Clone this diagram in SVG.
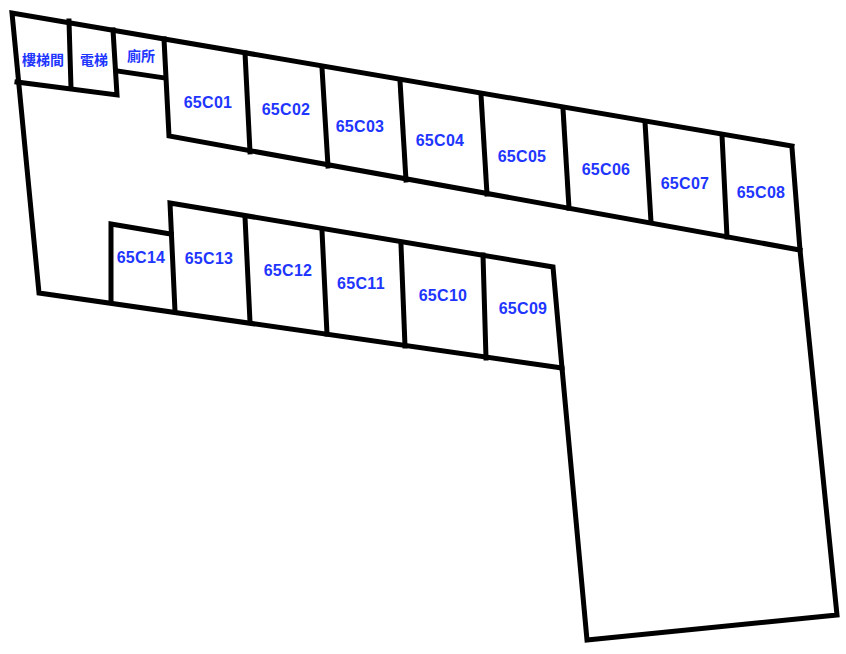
<svg xmlns="http://www.w3.org/2000/svg" width="846" height="654" viewBox="0 0 846 654">
<style>
.w{fill:none;stroke:#000;stroke-width:5;stroke-linecap:square;stroke-linejoin:miter}
text{font-family:"Liberation Sans","Noto Sans CJK TC",sans-serif;font-weight:700;fill:#1e36ff;text-anchor:middle}
.r{font-size:16px;letter-spacing:.3px}
.c{font-size:14px}
</style>
<rect width="846" height="654" fill="#fff"/>
<g id="connectors" class="w">
<path d="M792 146L12 13L39 293L562 368L587 640L837 615L800 250L792 148"/>
<path d="M17 82L117 95L113 30"/>
<path d="M69 21L71 88"/>
<path d="M117 71L165 78"/>
<path d="M164 39L169 136L800 250"/>
<path d="M245 53L250 152"/>
<path d="M322 68L328 166"/>
<path d="M400 81L406 180"/>
<path d="M481 95L487 194"/>
<path d="M563 109L569 208"/>
<path d="M645 122L651 222"/>
<path d="M722 135L727 237"/>
<path d="M562 368L553 267L170 203L175 311"/>
<path d="M111 302L111 224L171 234"/>
<path d="M245 217L250 322"/>
<path d="M322 231L327 334"/>
<path d="M401 245L405 346"/>
<path d="M483 255L486 358"/>
</g>
<g id="n-stair"><text class="c" x="43" y="65">樓梯間</text></g>
<g id="n-lift"><text class="c" x="94" y="65">電梯</text></g>
<g id="n-wc"><text class="c" x="141" y="61">廁所</text></g>
<g id="n-65C01"><text class="r" x="208" y="108">65C01</text></g>
<g id="n-65C02"><text class="r" x="286" y="115">65C02</text></g>
<g id="n-65C03"><text class="r" x="360" y="132">65C03</text></g>
<g id="n-65C04"><text class="r" x="440" y="146">65C04</text></g>
<g id="n-65C05"><text class="r" x="522" y="162">65C05</text></g>
<g id="n-65C06"><text class="r" x="606" y="175">65C06</text></g>
<g id="n-65C07"><text class="r" x="685" y="189">65C07</text></g>
<g id="n-65C08"><text class="r" x="761" y="198">65C08</text></g>
<g id="n-65C09"><text class="r" x="523" y="314">65C09</text></g>
<g id="n-65C10"><text class="r" x="443" y="301">65C10</text></g>
<g id="n-65C11"><text class="r" x="361" y="289">65C11</text></g>
<g id="n-65C12"><text class="r" x="288" y="276">65C12</text></g>
<g id="n-65C13"><text class="r" x="209" y="264">65C13</text></g>
<g id="n-65C14"><text class="r" x="141" y="263">65C14</text></g>
</svg>
